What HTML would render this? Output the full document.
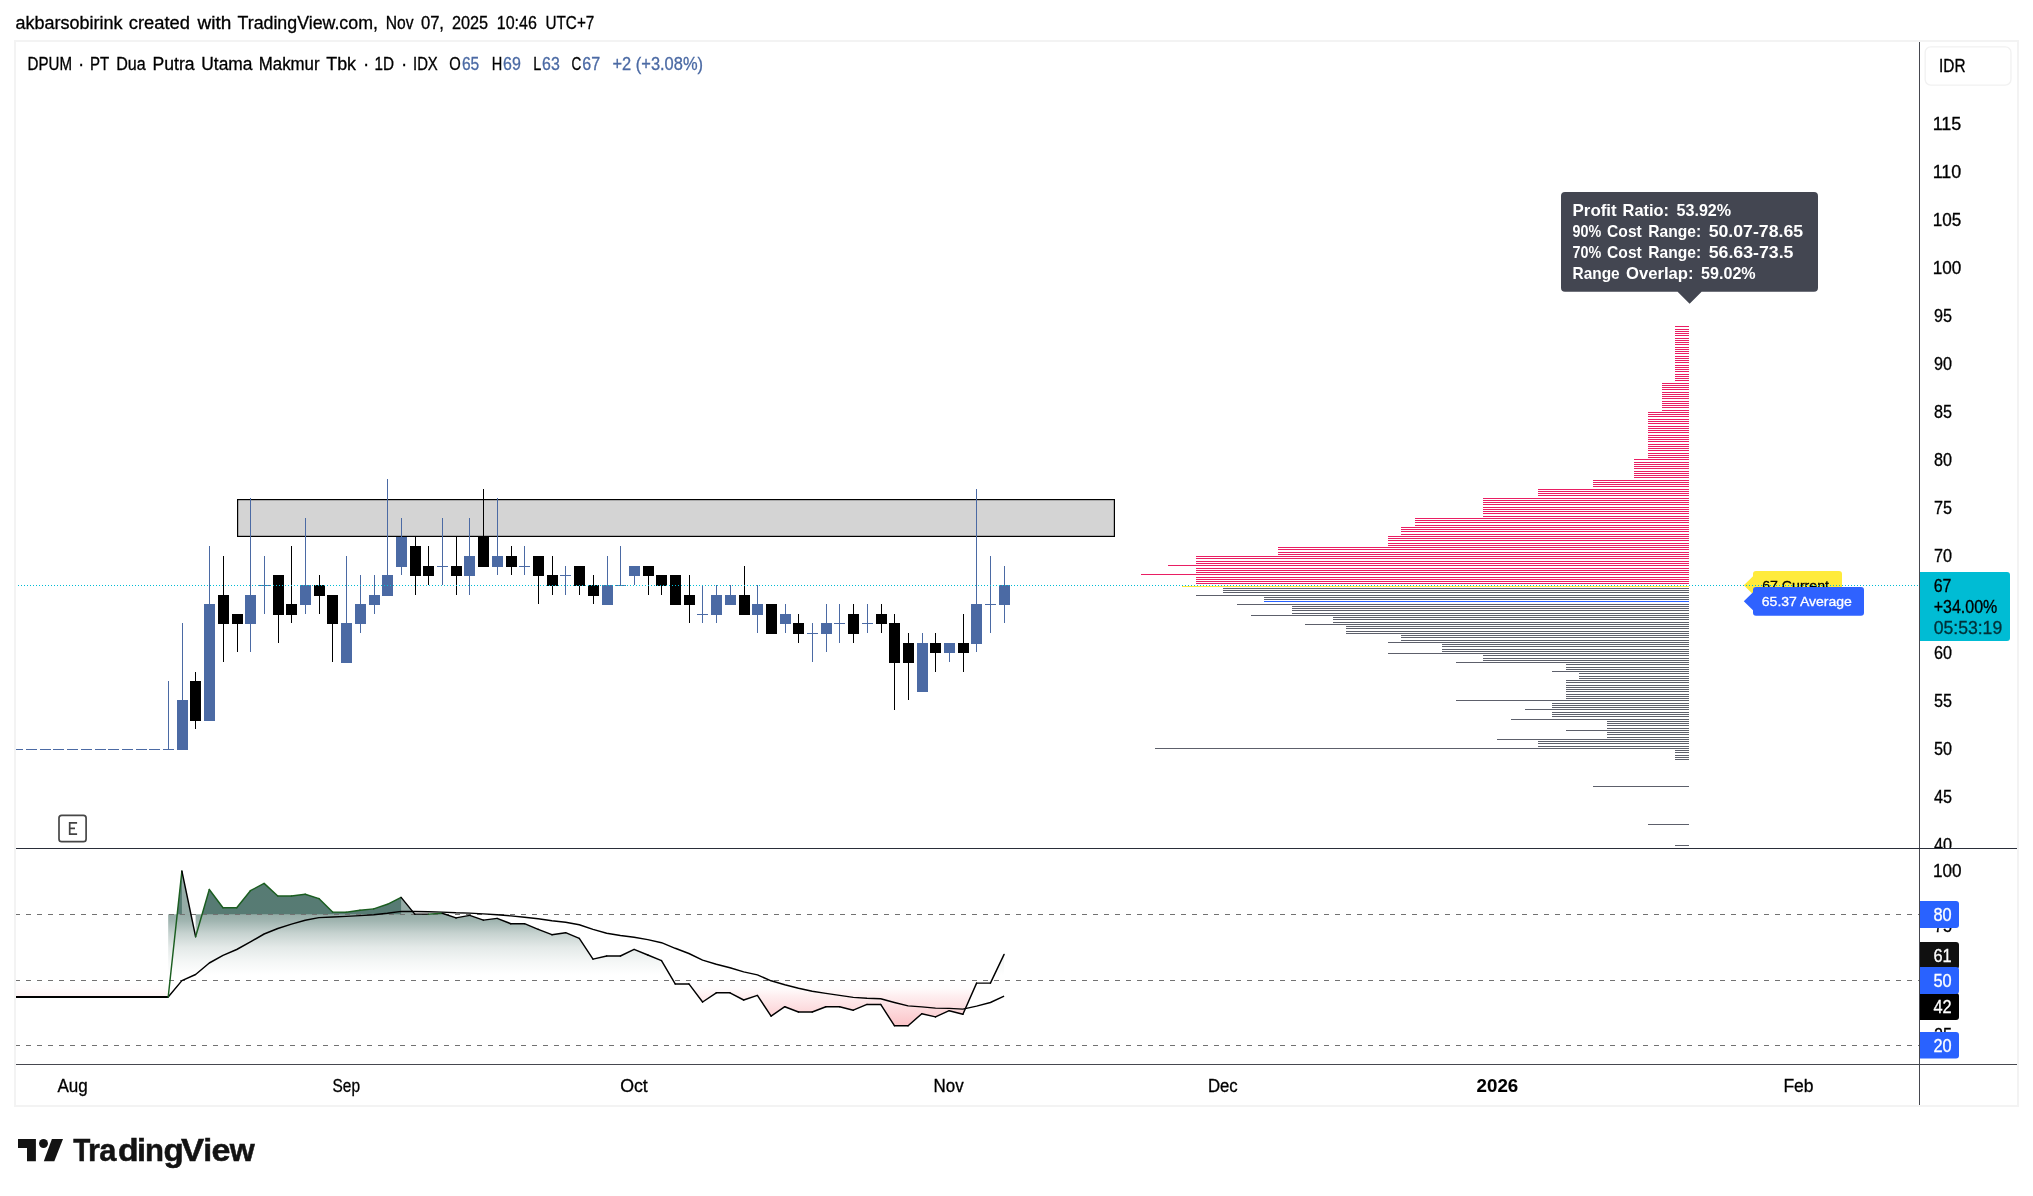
<!DOCTYPE html>
<html><head><meta charset="utf-8"><title>DPUM chart</title>
<style>
html,body{margin:0;padding:0;background:#ffffff;}
body{width:2033px;height:1196px;overflow:hidden;font-family:"Liberation Sans",sans-serif;}
svg{display:block;will-change:transform;font-family:"Liberation Sans",sans-serif;}
text{white-space:pre;}
</style></head><body>
<svg width="2033" height="1196" viewBox="0 0 2033 1196">
<defs>
<linearGradient id="gG" gradientUnits="userSpaceOnUse" x1="0" y1="914.3" x2="0" y2="980.3"><stop offset="0" stop-color="rgb(45,90,80)" stop-opacity="0.5"/><stop offset="0.1" stop-color="rgb(45,90,80)" stop-opacity="0.45"/><stop offset="0.29" stop-color="rgb(45,90,80)" stop-opacity="0.27"/><stop offset="0.5" stop-color="rgb(45,90,80)" stop-opacity="0.13"/><stop offset="0.72" stop-color="rgb(45,90,80)" stop-opacity="0.05"/><stop offset="0.92" stop-color="rgb(45,90,80)" stop-opacity="0.0"/><stop offset="1" stop-color="rgb(45,90,80)" stop-opacity="0"/></linearGradient>
<linearGradient id="gR" gradientUnits="userSpaceOnUse" x1="0" y1="980.3" x2="0" y2="1045.5"><stop offset="0" stop-color="rgb(242,54,69)" stop-opacity="0"/><stop offset="0.13" stop-color="rgb(242,54,69)" stop-opacity="0.02"/><stop offset="0.236" stop-color="rgb(242,54,69)" stop-opacity="0.08"/><stop offset="0.686" stop-color="rgb(242,54,69)" stop-opacity="0.295"/><stop offset="1" stop-color="rgb(242,54,69)" stop-opacity="0.43"/></linearGradient>
</defs>
<rect x="0" y="0" width="2033" height="1196" fill="#ffffff"/>
<rect x="237.6" y="499.6" width="876.8" height="36.8" fill="#d4d4d4" stroke="#000" stroke-width="1.2"/>
<g shape-rendering="crispEdges">
<rect x="16" y="749" width="7" height="1" fill="#4b6aa4"/>
<rect x="26" y="749" width="11" height="1" fill="#4b6aa4"/>
<rect x="40" y="749" width="11" height="1" fill="#4b6aa4"/>
<rect x="53" y="749" width="11" height="1" fill="#4b6aa4"/>
<rect x="67" y="749" width="11" height="1" fill="#4b6aa4"/>
<rect x="81" y="749" width="11" height="1" fill="#4b6aa4"/>
<rect x="95" y="749" width="11" height="1" fill="#4b6aa4"/>
<rect x="108" y="749" width="11" height="1" fill="#4b6aa4"/>
<rect x="122" y="749" width="11" height="1" fill="#4b6aa4"/>
<rect x="136" y="749" width="11" height="1" fill="#4b6aa4"/>
<rect x="149" y="749" width="11" height="1" fill="#4b6aa4"/>
<rect x="168" y="681" width="1" height="68" fill="#4b6aa4"/>
<rect x="163" y="749" width="11" height="1" fill="#4b6aa4"/>
<rect x="182" y="623" width="1" height="126" fill="#4b6aa4"/>
<rect x="177" y="700" width="11" height="50" fill="#4b6aa4"/>
<rect x="195" y="672" width="1" height="57" fill="#000000"/>
<rect x="190" y="681" width="11" height="40" fill="#000000"/>
<rect x="209" y="546" width="1" height="174" fill="#4b6aa4"/>
<rect x="204" y="604" width="11" height="117" fill="#4b6aa4"/>
<rect x="223" y="556" width="1" height="106" fill="#000000"/>
<rect x="218" y="595" width="11" height="29" fill="#000000"/>
<rect x="237" y="614" width="1" height="38" fill="#000000"/>
<rect x="232" y="614" width="11" height="10" fill="#000000"/>
<rect x="250" y="498" width="1" height="154" fill="#4b6aa4"/>
<rect x="245" y="595" width="11" height="29" fill="#4b6aa4"/>
<rect x="264" y="556" width="1" height="58" fill="#4b6aa4"/>
<rect x="259" y="585" width="11" height="1" fill="#4b6aa4"/>
<rect x="278" y="575" width="1" height="68" fill="#000000"/>
<rect x="273" y="575" width="11" height="40" fill="#000000"/>
<rect x="291" y="546" width="1" height="77" fill="#000000"/>
<rect x="286" y="604" width="11" height="11" fill="#000000"/>
<rect x="305" y="518" width="1" height="96" fill="#4b6aa4"/>
<rect x="300" y="585" width="11" height="20" fill="#4b6aa4"/>
<rect x="319" y="575" width="1" height="39" fill="#000000"/>
<rect x="314" y="585" width="11" height="11" fill="#000000"/>
<rect x="332" y="595" width="1" height="67" fill="#000000"/>
<rect x="327" y="595" width="11" height="29" fill="#000000"/>
<rect x="346" y="556" width="1" height="106" fill="#4b6aa4"/>
<rect x="341" y="623" width="11" height="40" fill="#4b6aa4"/>
<rect x="360" y="575" width="1" height="58" fill="#4b6aa4"/>
<rect x="355" y="604" width="11" height="20" fill="#4b6aa4"/>
<rect x="374" y="575" width="1" height="39" fill="#4b6aa4"/>
<rect x="369" y="595" width="11" height="10" fill="#4b6aa4"/>
<rect x="387" y="479" width="1" height="116" fill="#4b6aa4"/>
<rect x="382" y="575" width="11" height="21" fill="#4b6aa4"/>
<rect x="401" y="518" width="1" height="57" fill="#4b6aa4"/>
<rect x="396" y="537" width="11" height="30" fill="#4b6aa4"/>
<rect x="415" y="537" width="1" height="58" fill="#000000"/>
<rect x="410" y="546" width="11" height="30" fill="#000000"/>
<rect x="428" y="546" width="1" height="39" fill="#000000"/>
<rect x="423" y="566" width="11" height="10" fill="#000000"/>
<rect x="442" y="518" width="1" height="67" fill="#4b6aa4"/>
<rect x="437" y="566" width="11" height="1" fill="#4b6aa4"/>
<rect x="456" y="537" width="1" height="58" fill="#000000"/>
<rect x="451" y="566" width="11" height="10" fill="#000000"/>
<rect x="469" y="518" width="1" height="77" fill="#4b6aa4"/>
<rect x="464" y="556" width="11" height="20" fill="#4b6aa4"/>
<rect x="483" y="489" width="1" height="77" fill="#000000"/>
<rect x="478" y="537" width="11" height="30" fill="#000000"/>
<rect x="497" y="498" width="1" height="77" fill="#4b6aa4"/>
<rect x="492" y="556" width="11" height="11" fill="#4b6aa4"/>
<rect x="511" y="546" width="1" height="29" fill="#000000"/>
<rect x="506" y="556" width="11" height="11" fill="#000000"/>
<rect x="524" y="546" width="1" height="29" fill="#4b6aa4"/>
<rect x="519" y="566" width="11" height="1" fill="#4b6aa4"/>
<rect x="538" y="556" width="1" height="48" fill="#000000"/>
<rect x="533" y="556" width="11" height="20" fill="#000000"/>
<rect x="552" y="556" width="1" height="39" fill="#000000"/>
<rect x="547" y="575" width="11" height="11" fill="#000000"/>
<rect x="565" y="566" width="1" height="29" fill="#4b6aa4"/>
<rect x="560" y="575" width="11" height="1" fill="#4b6aa4"/>
<rect x="579" y="566" width="1" height="29" fill="#000000"/>
<rect x="574" y="566" width="11" height="20" fill="#000000"/>
<rect x="593" y="575" width="1" height="29" fill="#000000"/>
<rect x="588" y="585" width="11" height="11" fill="#000000"/>
<rect x="607" y="556" width="1" height="48" fill="#4b6aa4"/>
<rect x="602" y="585" width="11" height="20" fill="#4b6aa4"/>
<rect x="620" y="546" width="1" height="39" fill="#4b6aa4"/>
<rect x="615" y="585" width="11" height="1" fill="#4b6aa4"/>
<rect x="634" y="566" width="1" height="19" fill="#4b6aa4"/>
<rect x="629" y="566" width="11" height="10" fill="#4b6aa4"/>
<rect x="648" y="566" width="1" height="29" fill="#000000"/>
<rect x="643" y="566" width="11" height="10" fill="#000000"/>
<rect x="661" y="575" width="1" height="20" fill="#000000"/>
<rect x="656" y="575" width="11" height="11" fill="#000000"/>
<rect x="675" y="575" width="1" height="29" fill="#000000"/>
<rect x="670" y="575" width="11" height="30" fill="#000000"/>
<rect x="689" y="575" width="1" height="48" fill="#000000"/>
<rect x="684" y="595" width="11" height="10" fill="#000000"/>
<rect x="702" y="585" width="1" height="38" fill="#4b6aa4"/>
<rect x="697" y="614" width="11" height="1" fill="#4b6aa4"/>
<rect x="716" y="585" width="1" height="38" fill="#4b6aa4"/>
<rect x="711" y="595" width="11" height="20" fill="#4b6aa4"/>
<rect x="730" y="585" width="1" height="19" fill="#4b6aa4"/>
<rect x="725" y="595" width="11" height="10" fill="#4b6aa4"/>
<rect x="744" y="566" width="1" height="48" fill="#000000"/>
<rect x="739" y="595" width="11" height="20" fill="#000000"/>
<rect x="757" y="585" width="1" height="48" fill="#4b6aa4"/>
<rect x="752" y="604" width="11" height="11" fill="#4b6aa4"/>
<rect x="771" y="604" width="1" height="29" fill="#000000"/>
<rect x="766" y="604" width="11" height="30" fill="#000000"/>
<rect x="785" y="604" width="1" height="29" fill="#4b6aa4"/>
<rect x="780" y="614" width="11" height="10" fill="#4b6aa4"/>
<rect x="798" y="614" width="1" height="29" fill="#000000"/>
<rect x="793" y="623" width="11" height="11" fill="#000000"/>
<rect x="812" y="623" width="1" height="39" fill="#4b6aa4"/>
<rect x="807" y="633" width="11" height="1" fill="#4b6aa4"/>
<rect x="826" y="604" width="1" height="48" fill="#4b6aa4"/>
<rect x="821" y="623" width="11" height="11" fill="#4b6aa4"/>
<rect x="839" y="604" width="1" height="39" fill="#4b6aa4"/>
<rect x="834" y="623" width="11" height="1" fill="#4b6aa4"/>
<rect x="853" y="604" width="1" height="39" fill="#000000"/>
<rect x="848" y="614" width="11" height="20" fill="#000000"/>
<rect x="867" y="604" width="1" height="29" fill="#4b6aa4"/>
<rect x="862" y="623" width="11" height="1" fill="#4b6aa4"/>
<rect x="881" y="604" width="1" height="29" fill="#000000"/>
<rect x="876" y="614" width="11" height="10" fill="#000000"/>
<rect x="894" y="614" width="1" height="96" fill="#000000"/>
<rect x="889" y="623" width="11" height="40" fill="#000000"/>
<rect x="908" y="633" width="1" height="67" fill="#000000"/>
<rect x="903" y="643" width="11" height="20" fill="#000000"/>
<rect x="922" y="633" width="1" height="58" fill="#4b6aa4"/>
<rect x="917" y="643" width="11" height="49" fill="#4b6aa4"/>
<rect x="935" y="633" width="1" height="39" fill="#000000"/>
<rect x="930" y="643" width="11" height="10" fill="#000000"/>
<rect x="949" y="643" width="1" height="19" fill="#4b6aa4"/>
<rect x="944" y="643" width="11" height="10" fill="#4b6aa4"/>
<rect x="963" y="614" width="1" height="58" fill="#000000"/>
<rect x="958" y="643" width="11" height="10" fill="#000000"/>
<rect x="976" y="489" width="1" height="163" fill="#4b6aa4"/>
<rect x="971" y="604" width="11" height="40" fill="#4b6aa4"/>
<rect x="990" y="556" width="1" height="77" fill="#4b6aa4"/>
<rect x="985" y="604" width="11" height="1" fill="#4b6aa4"/>
<rect x="1004" y="566" width="1" height="57" fill="#4b6aa4"/>
<rect x="999" y="585" width="11" height="20" fill="#4b6aa4"/>
</g>
<path d="M1675 326.5H1689M1675 329.5H1689M1675 331.5H1689M1675 333.5H1689M1675 335.5H1689M1675 338.5H1689M1675 340.5H1689M1675 342.5H1689M1675 344.5H1689M1675 347.5H1689M1675 349.5H1689M1675 351.5H1689M1675 353.5H1689M1675 356.5H1689M1675 358.5H1689M1675 360.5H1689M1675 362.5H1689M1675 365.5H1689M1675 367.5H1689M1675 369.5H1689M1675 371.5H1689M1675 374.5H1689M1675 376.5H1689M1675 378.5H1689M1675 380.5H1689M1662 383.5H1689M1662 385.5H1689M1662 387.5H1689M1662 389.5H1689M1662 392.5H1689M1662 394.5H1689M1662 396.5H1689M1662 398.5H1689M1662 401.5H1689M1662 403.5H1689M1662 405.5H1689M1662 407.5H1689M1662 410.5H1689M1648 412.5H1689M1648 414.5H1689M1648 416.5H1689M1648 419.5H1689M1648 421.5H1689M1648 423.5H1689M1648 426.5H1689M1648 428.5H1689M1648 430.5H1689M1648 432.5H1689M1648 435.5H1689M1648 437.5H1689M1648 439.5H1689M1648 441.5H1689M1648 444.5H1689M1648 446.5H1689M1648 448.5H1689M1648 450.5H1689M1648 453.5H1689M1648 455.5H1689M1648 457.5H1689M1634 459.5H1689M1634 462.5H1689M1634 464.5H1689M1634 466.5H1689M1634 468.5H1689M1634 471.5H1689M1634 473.5H1689M1634 475.5H1689M1634 477.5H1689M1593 480.5H1689M1593 482.5H1689M1593 484.5H1689M1593 486.5H1689M1538 489.5H1689M1538 491.5H1689M1538 493.5H1689M1538 495.5H1689M1483 498.5H1689M1483 500.5H1689M1483 502.5H1689M1483 504.5H1689M1483 507.5H1689M1483 509.5H1689M1483 511.5H1689M1483 513.5H1689M1483 516.5H1689M1415 518.5H1689M1415 520.5H1689M1415 522.5H1689M1415 525.5H1689M1401 527.5H1689M1401 529.5H1689M1401 531.5H1689M1401 534.5H1689M1388 536.5H1689M1388 538.5H1689M1388 540.5H1689M1388 543.5H1689M1388 545.5H1689M1278 547.5H1689M1278 549.5H1689M1278 552.5H1689M1278 554.5H1689M1196 556.5H1689M1196 558.5H1689M1196 561.5H1689M1196 563.5H1689M1168 565.5H1689M1196 568.5H1689M1196 570.5H1689M1196 572.5H1689M1141 574.5H1689M1196 577.5H1689M1196 579.5H1689M1196 581.5H1689M1196 583.5H1689" stroke="#e91e63" stroke-width="1" fill="none" shape-rendering="crispEdges"/>
<path d="M1223 588.5H1689M1223 590.5H1689M1223 592.5H1689M1196 595.5H1689M1264 597.5H1689M1264 599.5H1689M1237 604.5H1689M1292 606.5H1689M1292 608.5H1689M1292 610.5H1689M1292 613.5H1689M1251 615.5H1689M1333 617.5H1689M1333 619.5H1689M1333 622.5H1689M1305 624.5H1689M1346 626.5H1689M1346 628.5H1689M1346 631.5H1689M1346 633.5H1689M1401 635.5H1689M1401 637.5H1689M1401 640.5H1689M1388 642.5H1689M1442 644.5H1689M1442 646.5H1689M1442 649.5H1689M1442 651.5H1689M1388 653.5H1689M1483 655.5H1689M1483 658.5H1689M1483 660.5H1689M1456 662.5H1689M1566 664.5H1689M1566 667.5H1689M1566 669.5H1689M1552 671.5H1689M1579 673.5H1689M1579 676.5H1689M1579 678.5H1689M1566 680.5H1689M1566 682.5H1689M1566 685.5H1689M1566 687.5H1689M1566 689.5H1689M1566 691.5H1689M1566 694.5H1689M1566 696.5H1689M1566 698.5H1689M1456 700.5H1689M1552 703.5H1689M1552 705.5H1689M1552 707.5H1689M1525 709.5H1689M1552 712.5H1689M1552 714.5H1689M1552 716.5H1689M1511 719.5H1689M1607 721.5H1689M1607 723.5H1689M1607 725.5H1689M1607 728.5H1689M1566 730.5H1689M1607 732.5H1689M1607 734.5H1689M1607 737.5H1689M1497 739.5H1689M1538 741.5H1689M1538 743.5H1689M1538 746.5H1689M1155 748.5H1689M1675 750.5H1689M1675 752.5H1689M1675 755.5H1689M1675 757.5H1689M1675 759.5H1689M1593 786.5H1689M1648 824.5H1689M1675 845.5H1689" stroke="#5d606b" stroke-width="1" fill="none" shape-rendering="crispEdges"/>
<path d="M1182 586.5H1689" stroke="#ffeb3b" stroke-width="1" shape-rendering="crispEdges"/>
<path d="M1264 601.5H1689" stroke="#2962ff" stroke-width="1" shape-rendering="crispEdges"/>
<path d="M1756 571H1839a3 3 0 0 1 3 3V597a3 3 0 0 1 -3 3H1756a3 3 0 0 1 -3 -3V594.3L1743.8 585.3L1753 576.3V574a3 3 0 0 1 3 -3Z" fill="#ffeb3b"/>
<text x="1762.2" y="589.5" font-size="13.4" fill="#000" stroke="#000" stroke-width="0.3" textLength="66.8" lengthAdjust="spacingAndGlyphs">67 Current</text>
<path d="M18 585.5H1919" stroke="#00bcd4" stroke-width="1" stroke-dasharray="1 2" shape-rendering="crispEdges"/>
<path d="M1756 587H1861a3 3 0 0 1 3 3V612.7a3 3 0 0 1 -3 3H1756a3 3 0 0 1 -3 -3V610.3L1743.8 601.3L1753 592.3V590a3 3 0 0 1 3 -3Z" fill="#2f62ff"/>
<text x="1761.8" y="605.9" font-size="13.4" fill="#fff" stroke="#fff" stroke-width="0.3" textLength="90.1" lengthAdjust="spacingAndGlyphs">65.37 Average</text>
<path d="M1565 192H1814a4 4 0 0 1 4 4V287.7a4 4 0 0 1 -4 4H1701.6L1689.6 303.8L1677.6 291.7H1565a4 4 0 0 1 -4 -4V196a4 4 0 0 1 4 -4Z" fill="#434651"/>
<text x="1572.5" y="215.7" font-size="16.9" fill="#fff" textLength="44.2" lengthAdjust="spacingAndGlyphs" font-weight="bold">Profit</text>
<text x="1622.6" y="215.7" font-size="16.9" fill="#fff" textLength="46.5" lengthAdjust="spacingAndGlyphs" font-weight="bold">Ratio:</text>
<text x="1676.5" y="215.7" font-size="16.9" fill="#fff" textLength="54.6" lengthAdjust="spacingAndGlyphs" font-weight="bold">53.92%</text>
<text x="1572.5" y="236.8" font-size="16.9" fill="#fff" textLength="28.7" lengthAdjust="spacingAndGlyphs" font-weight="bold">90%</text>
<text x="1607.1" y="236.8" font-size="16.9" fill="#fff" textLength="34.7" lengthAdjust="spacingAndGlyphs" font-weight="bold">Cost</text>
<text x="1648.2" y="236.8" font-size="16.9" fill="#fff" textLength="52.9" lengthAdjust="spacingAndGlyphs" font-weight="bold">Range:</text>
<text x="1708.7" y="236.8" font-size="16.9" fill="#fff" textLength="94.4" lengthAdjust="spacingAndGlyphs" font-weight="bold">50.07-78.65</text>
<text x="1572.5" y="257.8" font-size="16.9" fill="#fff" textLength="28.7" lengthAdjust="spacingAndGlyphs" font-weight="bold">70%</text>
<text x="1607.1" y="257.8" font-size="16.9" fill="#fff" textLength="34.7" lengthAdjust="spacingAndGlyphs" font-weight="bold">Cost</text>
<text x="1648.2" y="257.8" font-size="16.9" fill="#fff" textLength="52.9" lengthAdjust="spacingAndGlyphs" font-weight="bold">Range:</text>
<text x="1708.7" y="257.8" font-size="16.9" fill="#fff" textLength="84.8" lengthAdjust="spacingAndGlyphs" font-weight="bold">56.63-73.5</text>
<text x="1572.5" y="278.9" font-size="16.9" fill="#fff" textLength="47.2" lengthAdjust="spacingAndGlyphs" font-weight="bold">Range</text>
<text x="1626" y="278.9" font-size="16.9" fill="#fff" textLength="67.5" lengthAdjust="spacingAndGlyphs" font-weight="bold">Overlap:</text>
<text x="1701.1" y="278.9" font-size="16.9" fill="#fff" textLength="54.6" lengthAdjust="spacingAndGlyphs" font-weight="bold">59.02%</text>
<rect x="59" y="815.4" width="27.1" height="26.2" rx="2.7" fill="#fff" stroke="#474747" stroke-width="1.7"/>
<path d="M77.1 822.9H69.7V834.1H77.1M69.7 828.4H75" fill="none" stroke="#424242" stroke-width="1.7"/>
<text x="15.5" y="28.5" font-size="17.5" fill="#000" stroke="#000" stroke-width="0.3" textLength="107.0" lengthAdjust="spacingAndGlyphs">akbarsobirink</text>
<text x="128.75" y="28.5" font-size="17.5" fill="#000" stroke="#000" stroke-width="0.3" textLength="61.2" lengthAdjust="spacingAndGlyphs">created</text>
<text x="197.5" y="28.5" font-size="17.5" fill="#000" stroke="#000" stroke-width="0.3" textLength="33.8" lengthAdjust="spacingAndGlyphs">with</text>
<text x="237.5" y="28.5" font-size="17.5" fill="#000" stroke="#000" stroke-width="0.3" textLength="140.4" lengthAdjust="spacingAndGlyphs">TradingView.com,</text>
<text x="385.8" y="28.5" font-size="17.5" fill="#000" stroke="#000" stroke-width="0.3" textLength="27.8" lengthAdjust="spacingAndGlyphs">Nov</text>
<text x="420.9" y="28.5" font-size="17.5" fill="#000" stroke="#000" stroke-width="0.3" textLength="23.1" lengthAdjust="spacingAndGlyphs">07,</text>
<text x="451.9" y="28.5" font-size="17.5" fill="#000" stroke="#000" stroke-width="0.3" textLength="36.2" lengthAdjust="spacingAndGlyphs">2025</text>
<text x="496.8" y="28.5" font-size="17.5" fill="#000" stroke="#000" stroke-width="0.3" textLength="40.1" lengthAdjust="spacingAndGlyphs">10:46</text>
<text x="545.5" y="28.5" font-size="17.5" fill="#000" stroke="#000" stroke-width="0.3" textLength="48.8" lengthAdjust="spacingAndGlyphs">UTC+7</text>
<text x="27.5" y="70" font-size="17.5" fill="#000" stroke="#000" stroke-width="0.3" textLength="44.5" lengthAdjust="spacingAndGlyphs">DPUM</text>
<text x="78.3" y="70" font-size="17.5" fill="#000" stroke="#000" stroke-width="0.3">·</text>
<text x="90" y="70" font-size="17.5" fill="#000" stroke="#000" stroke-width="0.3" textLength="19.2" lengthAdjust="spacingAndGlyphs">PT</text>
<text x="116.25" y="70" font-size="17.5" fill="#000" stroke="#000" stroke-width="0.3" textLength="29.5" lengthAdjust="spacingAndGlyphs">Dua</text>
<text x="152.5" y="70" font-size="17.5" fill="#000" stroke="#000" stroke-width="0.3" textLength="42.0" lengthAdjust="spacingAndGlyphs">Putra</text>
<text x="201.25" y="70" font-size="17.5" fill="#000" stroke="#000" stroke-width="0.3" textLength="51.2" lengthAdjust="spacingAndGlyphs">Utama</text>
<text x="258.75" y="70" font-size="17.5" fill="#000" stroke="#000" stroke-width="0.3" textLength="60.8" lengthAdjust="spacingAndGlyphs">Makmur</text>
<text x="326.25" y="70" font-size="17.5" fill="#000" stroke="#000" stroke-width="0.3" textLength="29.8" lengthAdjust="spacingAndGlyphs">Tbk</text>
<text x="363.3" y="70" font-size="17.5" fill="#000" stroke="#000" stroke-width="0.3">·</text>
<text x="374.5" y="70" font-size="17.5" fill="#000" stroke="#000" stroke-width="0.3" textLength="19.5" lengthAdjust="spacingAndGlyphs">1D</text>
<text x="401.3" y="70" font-size="17.5" fill="#000" stroke="#000" stroke-width="0.3">·</text>
<text x="413" y="70" font-size="17.5" fill="#000" stroke="#000" stroke-width="0.3" textLength="24.8" lengthAdjust="spacingAndGlyphs">IDX</text>
<text x="449.3" y="70" font-size="17.5" fill="#000" stroke="#000" stroke-width="0.3" textLength="11.5" lengthAdjust="spacingAndGlyphs">O</text>
<text x="461.9" y="70" font-size="17.5" fill="#4b6aa4" stroke="#4b6aa4" stroke-width="0.3" textLength="17.3" lengthAdjust="spacingAndGlyphs">65</text>
<text x="491.8" y="70" font-size="17.5" fill="#000" stroke="#000" stroke-width="0.3" textLength="10.5" lengthAdjust="spacingAndGlyphs">H</text>
<text x="503.1" y="70" font-size="17.5" fill="#4b6aa4" stroke="#4b6aa4" stroke-width="0.3" textLength="17.8" lengthAdjust="spacingAndGlyphs">69</text>
<text x="533.3" y="70" font-size="17.5" fill="#000" stroke="#000" stroke-width="0.3" textLength="8" lengthAdjust="spacingAndGlyphs">L</text>
<text x="542.1" y="70" font-size="17.5" fill="#4b6aa4" stroke="#4b6aa4" stroke-width="0.3" textLength="17.7" lengthAdjust="spacingAndGlyphs">63</text>
<text x="571.6" y="70" font-size="17.5" fill="#000" stroke="#000" stroke-width="0.3" textLength="9.8" lengthAdjust="spacingAndGlyphs">C</text>
<text x="582.3" y="70" font-size="17.5" fill="#4b6aa4" stroke="#4b6aa4" stroke-width="0.3" textLength="17.9" lengthAdjust="spacingAndGlyphs">67</text>
<text x="612.5" y="70" font-size="17.5" fill="#4b6aa4" stroke="#4b6aa4" stroke-width="0.3" textLength="90.5" lengthAdjust="spacingAndGlyphs">+2 (+3.08%)</text>
<rect x="1919" y="42" width="1" height="1063" fill="#46484f" shape-rendering="crispEdges"/>
<rect x="1925.15" y="46.85" width="85.8" height="38.2" rx="5.5" fill="#fff" stroke="#f1f1f1" stroke-width="1.3"/>
<text x="1939" y="72" font-size="17.5" fill="#000" stroke="#000" stroke-width="0.3" textLength="26.5" lengthAdjust="spacingAndGlyphs">IDR</text>
<text x="1932.7" y="129.75" font-size="17.5" fill="#000" stroke="#000" stroke-width="0.3" textLength="28.6" lengthAdjust="spacingAndGlyphs">115</text>
<text x="1932.7" y="177.82" font-size="17.5" fill="#000" stroke="#000" stroke-width="0.3" textLength="28.6" lengthAdjust="spacingAndGlyphs">110</text>
<text x="1932.7" y="225.89" font-size="17.5" fill="#000" stroke="#000" stroke-width="0.3" textLength="28.6" lengthAdjust="spacingAndGlyphs">105</text>
<text x="1932.7" y="273.97" font-size="17.5" fill="#000" stroke="#000" stroke-width="0.3" textLength="28.6" lengthAdjust="spacingAndGlyphs">100</text>
<text x="1934" y="322.05" font-size="17.5" fill="#000" stroke="#000" stroke-width="0.3" textLength="18" lengthAdjust="spacingAndGlyphs">95</text>
<text x="1934" y="370.12" font-size="17.5" fill="#000" stroke="#000" stroke-width="0.3" textLength="18" lengthAdjust="spacingAndGlyphs">90</text>
<text x="1934" y="418.19" font-size="17.5" fill="#000" stroke="#000" stroke-width="0.3" textLength="18" lengthAdjust="spacingAndGlyphs">85</text>
<text x="1934" y="466.27" font-size="17.5" fill="#000" stroke="#000" stroke-width="0.3" textLength="18" lengthAdjust="spacingAndGlyphs">80</text>
<text x="1934" y="514.35" font-size="17.5" fill="#000" stroke="#000" stroke-width="0.3" textLength="18" lengthAdjust="spacingAndGlyphs">75</text>
<text x="1934" y="562.42" font-size="17.5" fill="#000" stroke="#000" stroke-width="0.3" textLength="18" lengthAdjust="spacingAndGlyphs">70</text>
<text x="1934" y="658.57" font-size="17.5" fill="#000" stroke="#000" stroke-width="0.3" textLength="18" lengthAdjust="spacingAndGlyphs">60</text>
<text x="1934" y="706.64" font-size="17.5" fill="#000" stroke="#000" stroke-width="0.3" textLength="18" lengthAdjust="spacingAndGlyphs">55</text>
<text x="1934" y="754.72" font-size="17.5" fill="#000" stroke="#000" stroke-width="0.3" textLength="18" lengthAdjust="spacingAndGlyphs">50</text>
<text x="1934" y="802.8" font-size="17.5" fill="#000" stroke="#000" stroke-width="0.3" textLength="18" lengthAdjust="spacingAndGlyphs">45</text>
<clipPath id="c40"><rect x="1920" y="830" width="90" height="18"/></clipPath>
<text x="1934" y="850.87" font-size="17.5" fill="#000" stroke="#000" stroke-width="0.3" textLength="18" lengthAdjust="spacingAndGlyphs" clip-path="url(#c40)">40</text>
<path d="M1920 572H2007a3 3 0 0 1 3 3V638a3 3 0 0 1 -3 3H1920Z" fill="#00bcd4"/>
<text x="1933.7" y="591.6" font-size="17.5" fill="#000" stroke="#000" stroke-width="0.3" textLength="17.7" lengthAdjust="spacingAndGlyphs">67</text>
<text x="1933.7" y="612.7" font-size="17.5" fill="#000" stroke="#000" stroke-width="0.3" textLength="63.6" lengthAdjust="spacingAndGlyphs">+34.00%</text>
<text x="1933.7" y="633.6" font-size="17.5" fill="#003138" stroke="#003138" stroke-width="0.3" textLength="68.5" lengthAdjust="spacingAndGlyphs">05:53:19</text>
<rect x="16" y="848" width="2001" height="1" fill="#2a2e39" shape-rendering="crispEdges"/>
<rect x="16" y="1064" width="2001" height="1" fill="#46484f" shape-rendering="crispEdges"/>
<rect x="16" y="980.3" width="152.2" height="16.700000000000045" fill="url(#gR)" fill-opacity="0.7"/>
<path d="M168.2 997.0L181.9 871.1L195.6 936.7L209.3 889.5L223.0 907.8L236.7 907.8L250.4 890.7L264.1 883.4L277.8 896.0L291.5 896.0L305.2 894.2L318.9 898.6L332.6 912.1L346.3 912.3L360.0 910.2L373.7 908.9L387.4 904.3L401.1 897.4L414.8 914.1L428.5 914.1L442.2 913.2L456.0 917.9L469.7 915.4L483.4 920.1L497.1 918.4L510.8 923.7L524.5 923.7L538.2 929.3L551.9 934.7L565.6 932.7L579.3 938.4L593.0 959.1L606.7 956.0L620.4 956.0L634.1 949.4L647.8 955.0L661.5 960.6L675.2 983.9L688.9 983.9L702.6 1002.0L716.3 992.8L730.0 992.8L743.7 1000.0L757.4 995.4L771.1 1016.1L784.8 1006.7L798.5 1012.0L812.2 1012.0L825.9 1006.7L839.6 1006.7L853.3 1010.2L867.0 1004.4L880.7 1004.4L894.4 1025.7L908.1 1025.7L921.8 1013.7L935.5 1016.9L949.2 1010.7L962.9 1014.2L976.6 983.1L990.4 983.1L1004.1 954.4L1004.1 980.3L168.2 980.3Z" fill="url(#gG)"/>
<path d="M168.2 997.0L181.9 871.1L195.6 936.7L209.3 889.5L223.0 907.8L236.7 907.8L250.4 890.7L264.1 883.4L277.8 896.0L291.5 896.0L305.2 894.2L318.9 898.6L332.6 912.1L346.3 912.3L360.0 910.2L373.7 908.9L387.4 904.3L401.1 897.4L414.8 914.1L428.5 914.1L442.2 913.2L456.0 917.9L469.7 915.4L483.4 920.1L497.1 918.4L510.8 923.7L524.5 923.7L538.2 929.3L551.9 934.7L565.6 932.7L579.3 938.4L593.0 959.1L606.7 956.0L620.4 956.0L634.1 949.4L647.8 955.0L661.5 960.6L675.2 983.9L688.9 983.9L702.6 1002.0L716.3 992.8L730.0 992.8L743.7 1000.0L757.4 995.4L771.1 1016.1L784.8 1006.7L798.5 1012.0L812.2 1012.0L825.9 1006.7L839.6 1006.7L853.3 1010.2L867.0 1004.4L880.7 1004.4L894.4 1025.7L908.1 1025.7L921.8 1013.7L935.5 1016.9L949.2 1010.7L962.9 1014.2L976.6 983.1L990.4 983.1L1004.1 954.4L1004.1 980.3L168.2 980.3Z" fill="url(#gR)"/>
<path d="M168.2 997.0L177.2 914.3L168.2 914.3Z" fill="url(#gG)"/>
<path d="M195.6 936.7L202.1 914.3L195.6 914.3Z" fill="url(#gG)"/>
<path d="M177.2 914.3L181.9 871.1L181.9 914.3ZM202.1 914.3L209.3 889.5L209.3 914.3ZM209.3 889.5L223.0 907.8L223.0 914.3L209.3 914.3ZM223.0 907.8L236.7 907.8L236.7 914.3L223.0 914.3ZM236.7 907.8L250.4 890.7L250.4 914.3L236.7 914.3ZM250.4 890.7L264.1 883.4L264.1 914.3L250.4 914.3ZM264.1 883.4L277.8 896.0L277.8 914.3L264.1 914.3ZM277.8 896.0L291.5 896.0L291.5 914.3L277.8 914.3ZM291.5 896.0L305.2 894.2L305.2 914.3L291.5 914.3ZM305.2 894.2L318.9 898.6L318.9 914.3L305.2 914.3ZM318.9 898.6L332.6 912.1L332.6 914.3L318.9 914.3ZM332.6 912.1L346.3 912.3L346.3 914.3L332.6 914.3ZM346.3 912.3L360.0 910.2L360.0 914.3L346.3 914.3ZM360.0 910.2L373.7 908.9L373.7 914.3L360.0 914.3ZM373.7 908.9L387.4 904.3L387.4 914.3L373.7 914.3ZM387.4 904.3L401.1 897.4L401.1 914.3L387.4 914.3ZM428.5 914.1L442.2 913.2L442.2 914.3L428.5 914.3Z" fill="rgb(52,96,86)" fill-opacity="0.64"/>
<path d="M15 914.5H1919" stroke="#727272" stroke-width="1" stroke-dasharray="5 6" shape-rendering="crispEdges"/>
<path d="M15 980.5H1919" stroke="#727272" stroke-width="1" stroke-dasharray="5 6" shape-rendering="crispEdges"/>
<path d="M15 1045.5H1919" stroke="#727272" stroke-width="1" stroke-dasharray="5 6" shape-rendering="crispEdges"/>
<path d="M16 997L168.2 997.0L181.9 980.6L195.6 974.5L209.3 963.0L223.0 955.4L236.7 949.5L250.4 941.9L264.1 934.0L277.8 928.5L291.5 924.1L305.2 920.3L318.9 917.6L332.6 917.0L346.3 916.4L360.0 915.6L373.7 914.8L387.4 913.3L401.1 911.4L414.8 911.4L428.5 911.7L442.2 912.1L456.0 912.8L469.7 913.1L483.4 913.9L497.1 914.7L510.8 915.9L524.5 917.2L538.2 918.8L551.9 920.7L565.6 922.2L579.3 924.8L593.0 929.4L606.7 933.2L620.4 935.5L634.1 937.3L647.8 939.6L661.5 942.7L675.2 948.3L688.9 953.5L702.6 960.1L716.3 964.2L730.0 967.8L743.7 971.9L757.4 974.9L771.1 980.8L784.8 984.7L798.5 988.2L812.2 991.3L825.9 993.4L839.6 995.4L853.3 997.4L867.0 998.3L880.7 998.8L894.4 1002.5L908.1 1005.9L921.8 1006.9L935.5 1008.1L949.2 1008.4L962.9 1009.1L976.6 1006.1L990.4 1002.5L1004.1 996.2" fill="none" stroke="#000" stroke-width="1.45" stroke-linejoin="round"/>
<path d="M16 997H168.2" stroke="#000" stroke-width="2.2" fill="none"/>
<path d="M168.2 997.0L181.9 871.1" stroke="#1b5e20" stroke-width="1.45" stroke-linecap="round" fill="none"/>
<path d="M181.9 871.1L195.6 936.7" stroke="#000" stroke-width="1.45" stroke-linecap="round" fill="none"/>
<path d="M195.6 936.7L209.3 889.5" stroke="#1b5e20" stroke-width="1.45" stroke-linecap="round" fill="none"/>
<path d="M209.3 889.5L223.0 907.8" stroke="#1b5e20" stroke-width="1.45" stroke-linecap="round" fill="none"/>
<path d="M223.0 907.8L236.7 907.8" stroke="#1b5e20" stroke-width="1.45" stroke-linecap="round" fill="none"/>
<path d="M236.7 907.8L250.4 890.7" stroke="#1b5e20" stroke-width="1.45" stroke-linecap="round" fill="none"/>
<path d="M250.4 890.7L264.1 883.4" stroke="#1b5e20" stroke-width="1.45" stroke-linecap="round" fill="none"/>
<path d="M264.1 883.4L277.8 896.0" stroke="#1b5e20" stroke-width="1.45" stroke-linecap="round" fill="none"/>
<path d="M277.8 896.0L291.5 896.0" stroke="#1b5e20" stroke-width="1.45" stroke-linecap="round" fill="none"/>
<path d="M291.5 896.0L305.2 894.2" stroke="#1b5e20" stroke-width="1.45" stroke-linecap="round" fill="none"/>
<path d="M305.2 894.2L318.9 898.6" stroke="#1b5e20" stroke-width="1.45" stroke-linecap="round" fill="none"/>
<path d="M318.9 898.6L332.6 912.1" stroke="#1b5e20" stroke-width="1.45" stroke-linecap="round" fill="none"/>
<path d="M332.6 912.1L346.3 912.3" stroke="#1b5e20" stroke-width="1.45" stroke-linecap="round" fill="none"/>
<path d="M346.3 912.3L360.0 910.2" stroke="#1b5e20" stroke-width="1.45" stroke-linecap="round" fill="none"/>
<path d="M360.0 910.2L373.7 908.9" stroke="#1b5e20" stroke-width="1.45" stroke-linecap="round" fill="none"/>
<path d="M373.7 908.9L387.4 904.3" stroke="#1b5e20" stroke-width="1.45" stroke-linecap="round" fill="none"/>
<path d="M387.4 904.3L401.1 897.4" stroke="#1b5e20" stroke-width="1.45" stroke-linecap="round" fill="none"/>
<path d="M401.1 897.4L414.8 914.1" stroke="#000" stroke-width="1.45" stroke-linecap="round" fill="none"/>
<path d="M414.8 914.1L428.5 914.1" stroke="#000" stroke-width="1.45" stroke-linecap="round" fill="none"/>
<path d="M428.5 914.1L442.2 913.2" stroke="#1b5e20" stroke-width="1.45" stroke-linecap="round" fill="none"/>
<path d="M442.2 913.2L456.0 917.9" stroke="#000" stroke-width="1.45" stroke-linecap="round" fill="none"/>
<path d="M456.0 917.9L469.7 915.4" stroke="#000" stroke-width="1.45" stroke-linecap="round" fill="none"/>
<path d="M469.7 915.4L483.4 920.1" stroke="#000" stroke-width="1.45" stroke-linecap="round" fill="none"/>
<path d="M483.4 920.1L497.1 918.4" stroke="#000" stroke-width="1.45" stroke-linecap="round" fill="none"/>
<path d="M497.1 918.4L510.8 923.7" stroke="#000" stroke-width="1.45" stroke-linecap="round" fill="none"/>
<path d="M510.8 923.7L524.5 923.7" stroke="#000" stroke-width="1.45" stroke-linecap="round" fill="none"/>
<path d="M524.5 923.7L538.2 929.3" stroke="#000" stroke-width="1.45" stroke-linecap="round" fill="none"/>
<path d="M538.2 929.3L551.9 934.7" stroke="#000" stroke-width="1.45" stroke-linecap="round" fill="none"/>
<path d="M551.9 934.7L565.6 932.7" stroke="#000" stroke-width="1.45" stroke-linecap="round" fill="none"/>
<path d="M565.6 932.7L579.3 938.4" stroke="#000" stroke-width="1.45" stroke-linecap="round" fill="none"/>
<path d="M579.3 938.4L593.0 959.1" stroke="#000" stroke-width="1.45" stroke-linecap="round" fill="none"/>
<path d="M593.0 959.1L606.7 956.0" stroke="#000" stroke-width="1.45" stroke-linecap="round" fill="none"/>
<path d="M606.7 956.0L620.4 956.0" stroke="#000" stroke-width="1.45" stroke-linecap="round" fill="none"/>
<path d="M620.4 956.0L634.1 949.4" stroke="#000" stroke-width="1.45" stroke-linecap="round" fill="none"/>
<path d="M634.1 949.4L647.8 955.0" stroke="#000" stroke-width="1.45" stroke-linecap="round" fill="none"/>
<path d="M647.8 955.0L661.5 960.6" stroke="#000" stroke-width="1.45" stroke-linecap="round" fill="none"/>
<path d="M661.5 960.6L675.2 983.9" stroke="#000" stroke-width="1.45" stroke-linecap="round" fill="none"/>
<path d="M675.2 983.9L688.9 983.9" stroke="#000" stroke-width="1.45" stroke-linecap="round" fill="none"/>
<path d="M688.9 983.9L702.6 1002.0" stroke="#000" stroke-width="1.45" stroke-linecap="round" fill="none"/>
<path d="M702.6 1002.0L716.3 992.8" stroke="#000" stroke-width="1.45" stroke-linecap="round" fill="none"/>
<path d="M716.3 992.8L730.0 992.8" stroke="#000" stroke-width="1.45" stroke-linecap="round" fill="none"/>
<path d="M730.0 992.8L743.7 1000.0" stroke="#000" stroke-width="1.45" stroke-linecap="round" fill="none"/>
<path d="M743.7 1000.0L757.4 995.4" stroke="#000" stroke-width="1.45" stroke-linecap="round" fill="none"/>
<path d="M757.4 995.4L771.1 1016.1" stroke="#000" stroke-width="1.45" stroke-linecap="round" fill="none"/>
<path d="M771.1 1016.1L784.8 1006.7" stroke="#000" stroke-width="1.45" stroke-linecap="round" fill="none"/>
<path d="M784.8 1006.7L798.5 1012.0" stroke="#000" stroke-width="1.45" stroke-linecap="round" fill="none"/>
<path d="M798.5 1012.0L812.2 1012.0" stroke="#000" stroke-width="1.45" stroke-linecap="round" fill="none"/>
<path d="M812.2 1012.0L825.9 1006.7" stroke="#000" stroke-width="1.45" stroke-linecap="round" fill="none"/>
<path d="M825.9 1006.7L839.6 1006.7" stroke="#000" stroke-width="1.45" stroke-linecap="round" fill="none"/>
<path d="M839.6 1006.7L853.3 1010.2" stroke="#000" stroke-width="1.45" stroke-linecap="round" fill="none"/>
<path d="M853.3 1010.2L867.0 1004.4" stroke="#000" stroke-width="1.45" stroke-linecap="round" fill="none"/>
<path d="M867.0 1004.4L880.7 1004.4" stroke="#000" stroke-width="1.45" stroke-linecap="round" fill="none"/>
<path d="M880.7 1004.4L894.4 1025.7" stroke="#000" stroke-width="1.45" stroke-linecap="round" fill="none"/>
<path d="M894.4 1025.7L908.1 1025.7" stroke="#000" stroke-width="1.45" stroke-linecap="round" fill="none"/>
<path d="M908.1 1025.7L921.8 1013.7" stroke="#000" stroke-width="1.45" stroke-linecap="round" fill="none"/>
<path d="M921.8 1013.7L935.5 1016.9" stroke="#000" stroke-width="1.45" stroke-linecap="round" fill="none"/>
<path d="M935.5 1016.9L949.2 1010.7" stroke="#000" stroke-width="1.45" stroke-linecap="round" fill="none"/>
<path d="M949.2 1010.7L962.9 1014.2" stroke="#000" stroke-width="1.45" stroke-linecap="round" fill="none"/>
<path d="M962.9 1014.2L976.6 983.1" stroke="#000" stroke-width="1.45" stroke-linecap="round" fill="none"/>
<path d="M976.6 983.1L990.4 983.1" stroke="#000" stroke-width="1.45" stroke-linecap="round" fill="none"/>
<path d="M990.4 983.1L1004.1 954.4" stroke="#000" stroke-width="1.45" stroke-linecap="round" fill="none"/>
<text x="1932.9" y="876.75" font-size="17.5" fill="#000" stroke="#000" stroke-width="0.3" textLength="28.6" lengthAdjust="spacingAndGlyphs">100</text>
<text x="1934" y="931.88" font-size="17.5" fill="#000" stroke="#000" stroke-width="0.3" textLength="18" lengthAdjust="spacingAndGlyphs">75</text>
<text x="1934" y="1041.22" font-size="17.5" fill="#000" stroke="#000" stroke-width="0.3" textLength="18" lengthAdjust="spacingAndGlyphs">25</text>
<path d="M1920 942H1956a3 3 0 0 1 3 3V966a3 3 0 0 1 -3 3H1920Z" fill="#101010"/>
<text x="1933.4" y="961.9" font-size="17.5" fill="#fff" stroke="#fff" stroke-width="0.3" textLength="18.2" lengthAdjust="spacingAndGlyphs">61</text>
<path d="M1920 993H1956a3 3 0 0 1 3 3V1017a3 3 0 0 1 -3 3H1920Z" fill="#000000"/>
<text x="1933.4" y="1012.9" font-size="17.5" fill="#fff" stroke="#fff" stroke-width="0.3" textLength="18.2" lengthAdjust="spacingAndGlyphs">42</text>
<path d="M1920 901H1956a3 3 0 0 1 3 3V925a3 3 0 0 1 -3 3H1920Z" fill="#2962ff"/>
<text x="1933.4" y="920.7" font-size="17.5" fill="#fff" stroke="#fff" stroke-width="0.3" textLength="18.2" lengthAdjust="spacingAndGlyphs">80</text>
<path d="M1920 967H1956a3 3 0 0 1 3 3V991a3 3 0 0 1 -3 3H1920Z" fill="#2962ff"/>
<text x="1933.4" y="986.7" font-size="17.5" fill="#fff" stroke="#fff" stroke-width="0.3" textLength="18.2" lengthAdjust="spacingAndGlyphs">50</text>
<path d="M1920 1032H1956a3 3 0 0 1 3 3V1055.6a3 3 0 0 1 -3 3H1920Z" fill="#2962ff"/>
<text x="1933.4" y="1051.6" font-size="17.5" fill="#fff" stroke="#fff" stroke-width="0.3" textLength="18.2" lengthAdjust="spacingAndGlyphs">20</text>
<text x="57.5" y="1091.8" font-size="17.5" fill="#000" stroke="#000" stroke-width="0.3" textLength="30.3" lengthAdjust="spacingAndGlyphs">Aug</text>
<text x="332.5" y="1091.8" font-size="17.5" fill="#000" stroke="#000" stroke-width="0.3" textLength="27.5" lengthAdjust="spacingAndGlyphs">Sep</text>
<text x="620.2" y="1091.8" font-size="17.5" fill="#000" stroke="#000" stroke-width="0.3" textLength="27.6" lengthAdjust="spacingAndGlyphs">Oct</text>
<text x="933.6" y="1091.8" font-size="17.5" fill="#000" stroke="#000" stroke-width="0.3" textLength="30.1" lengthAdjust="spacingAndGlyphs">Nov</text>
<text x="1207.9" y="1091.8" font-size="17.5" fill="#000" stroke="#000" stroke-width="0.3" textLength="29.8" lengthAdjust="spacingAndGlyphs">Dec</text>
<text x="1476.6" y="1091.8" font-size="17.5" fill="#000" stroke="#000" stroke-width="0.1" textLength="41.6" lengthAdjust="spacingAndGlyphs" font-weight="bold">2026</text>
<text x="1783.4" y="1091.8" font-size="17.5" fill="#000" stroke="#000" stroke-width="0.3" textLength="30.2" lengthAdjust="spacingAndGlyphs">Feb</text>
<path d="M18 1139.1H35.9V1161.2H27V1148H18Z" fill="#131313"/>
<circle cx="43.5" cy="1143.5" r="4.45" fill="#131313"/>
<path d="M51.9 1139.1H63L54.3 1161.2H43.8Z" fill="#131313"/>
<text x="73.13" y="1161.2" font-size="30.9" fill="#131313" stroke="#131313" stroke-width="0.5" textLength="17.09" lengthAdjust="spacingAndGlyphs" font-weight="bold">T</text>
<text x="88.05" y="1161.2" font-size="30.9" fill="#131313" stroke="#131313" stroke-width="0.5" textLength="11.91" lengthAdjust="spacingAndGlyphs" font-weight="bold">r</text>
<text x="99.35" y="1161.2" font-size="30.9" fill="#131313" stroke="#131313" stroke-width="0.5" textLength="17.16" lengthAdjust="spacingAndGlyphs" font-weight="bold">a</text>
<text x="118.02" y="1161.2" font-size="30.9" fill="#131313" stroke="#131313" stroke-width="0.5" textLength="20.61" lengthAdjust="spacingAndGlyphs" font-weight="bold">d</text>
<text x="137.09" y="1161.2" font-size="30.9" fill="#131313" stroke="#131313" stroke-width="0.5" textLength="9.01" lengthAdjust="spacingAndGlyphs" font-weight="bold">i</text>
<text x="144.95" y="1161.2" font-size="30.9" fill="#131313" stroke="#131313" stroke-width="0.5" textLength="18.97" lengthAdjust="spacingAndGlyphs" font-weight="bold">n</text>
<text x="163.54" y="1161.2" font-size="30.9" fill="#131313" stroke="#131313" stroke-width="0.5" textLength="20.28" lengthAdjust="spacingAndGlyphs" font-weight="bold">g</text>
<text x="180.91" y="1161.2" font-size="30.9" fill="#131313" stroke="#131313" stroke-width="0.5" textLength="23.12" lengthAdjust="spacingAndGlyphs" font-weight="bold">V</text>
<text x="203.26" y="1161.2" font-size="30.9" fill="#131313" stroke="#131313" stroke-width="0.5" textLength="8.91" lengthAdjust="spacingAndGlyphs" font-weight="bold">i</text>
<text x="211.57" y="1161.2" font-size="30.9" fill="#131313" stroke="#131313" stroke-width="0.5" textLength="19.0" lengthAdjust="spacingAndGlyphs" font-weight="bold">e</text>
<text x="229.69" y="1161.2" font-size="30.9" fill="#131313" stroke="#131313" stroke-width="0.5" textLength="24.94" lengthAdjust="spacingAndGlyphs" font-weight="bold">w</text>
<g shape-rendering="crispEdges" fill="#f3f3f3">
<rect x="14" y="40" width="2005" height="2"/>
<rect x="14" y="1105" width="2005" height="2"/>
<rect x="14" y="40" width="2" height="1067"/>
<rect x="2017" y="40" width="2" height="1067"/>
</g>
</svg>
</body></html>
